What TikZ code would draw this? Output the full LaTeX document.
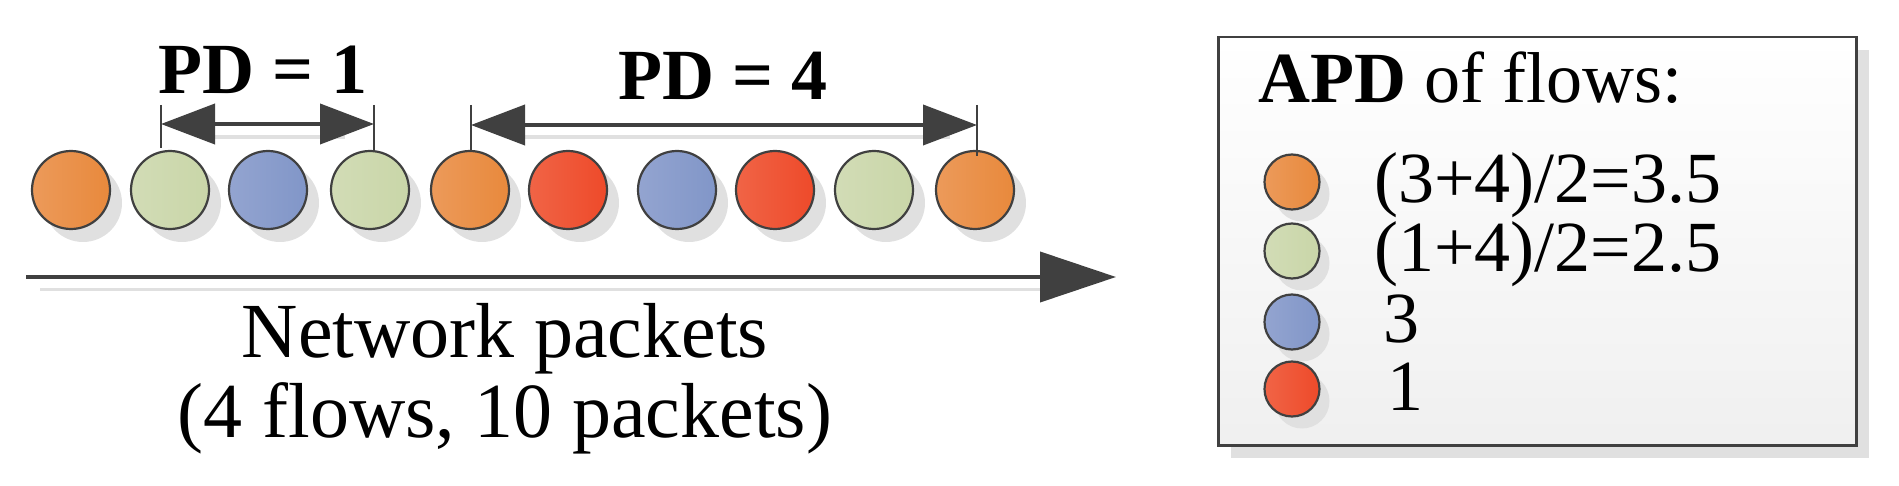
\documentclass[tikz,border=0pt]{standalone}
\usepackage{fontspec}
\setmainfont{Liberation Serif}
\usetikzlibrary{arrows.meta}
\definecolor{cor}{HTML}{E8893C}\definecolor{corl}{HTML}{EC9A5A}
\definecolor{cgr}{HTML}{C9D6A8}\definecolor{cgrl}{HTML}{D2DCB6}
\definecolor{cbl}{HTML}{8196C8}\definecolor{cbll}{HTML}{93A4D0}
\definecolor{crd}{HTML}{EE4A2A}\definecolor{crdl}{HTML}{F06446}
\definecolor{ln}{HTML}{404040}
\tikzset{
 pkt/.style 2 args={circle,draw=ln,line width=2.2pt,minimum size=#2,inner sep=0pt,left color=#1l,right color=#1},
 shad/.style={circle,fill=black!12,minimum size=#1,inner sep=0pt,draw=none},
 txt/.style={font=\fontsize{72}{80}\selectfont,inner sep=0pt},
 big/.style={font=\fontsize{78}{86}\selectfont,inner sep=0pt},
 dim/.style={ln,line width=4pt,{Triangle[length=54pt,width=40pt]}-{Triangle[length=54pt,width=40pt]}},
 tick/.style={ln,line width=1.2pt}
}
\begin{document}
\begin{tikzpicture}[x=1pt,y=-1pt]
\useasboundingbox (0,0) rectangle (1899,486);
% packets
\foreach \x/\c/\n in {71/cor/1,170/cgr/2,268/cbl/3,370/cgr/4,470/cor/5,568/crd/6,677/cbl/7,775/crd/8,874/cgr/9,975/cor/10}{
  \node[shad=78pt] at (\x+12,203) {};
  \node[pkt={\c}{78pt}] (p\n) at (\x,190) {};
}
% PD ticks and arrows
\coordinate (t1a) at (161,105); \coordinate (t1b) at (161,148);
\coordinate (t2a) at (374,105); \coordinate (t2b) at (374,150);
\coordinate (t3a) at (471,105); \coordinate (t3b) at (471,152);
\coordinate (t4a) at (977,105); \coordinate (t4b) at (977,156);
\draw[tick] (t1a)--(t1b); \draw[tick] (t2a)--(t2b);
\draw[tick] (t3a)--(t3b); \draw[tick] (t4a)--(t4b);
\draw[black!12,line width=4pt] (200,137)--(345,137);
\draw[black!12,line width=4pt] (510,137)--(950,137);
\draw[dim] (t1a|-0,124) -- (t2a|-0,124);
\draw[dim] (t3a|-0,125) -- (t4a|-0,125);
\node[txt,font=\fontsize{72}{80}\selectfont\bfseries] (pd1) at (263,70) {PD = 1};
\node[txt,font=\fontsize{72}{80}\selectfont\bfseries] (pd4) at (723,76) {PD = 4};
% axis
\coordinate (a0) at (26,277); \coordinate (a1) at (1116,277);
\draw[black!12,line width=3pt] (40,290)--(1040,290);
\draw[ln,line width=4pt,-{Triangle[length=76pt,width=50pt]}] (a0)--(a1);
\node[big,anchor=base] (np) at (505,358) {Network packets};
\node[big,anchor=base] (np2) at (505,437) {(4 flows, 10 packets)};
% legend
\fill[black!12] (1231,50) rectangle (1869,458);
\node[draw=ln,line width=2.5pt,top color=white,bottom color=black!6,minimum width=638pt,minimum height=408pt,anchor=north west,inner sep=0pt] (box) at (1217,36) {};
\node[txt,anchor=base west] (title) at (1258,103) {\textbf{APD} of flows:};
\foreach \y/\c/\t/\tx/\n in {182/cor/{(3+4)/2=3.5}/1374/1,251/cgr/{(1+4)/2=2.5}/1374/2,322/cbl/3/1383/3,389/crd/1/1387/4}{
  \node[shad=55pt] at (1302,\y+12) {};
  \node[pkt={\c}{55pt}] (l\n) at (1292,\y) {};
  \node[txt,anchor=base west] (lt\n) at (\tx,\y+21) {\t};
}
\end{tikzpicture}
\end{document}
